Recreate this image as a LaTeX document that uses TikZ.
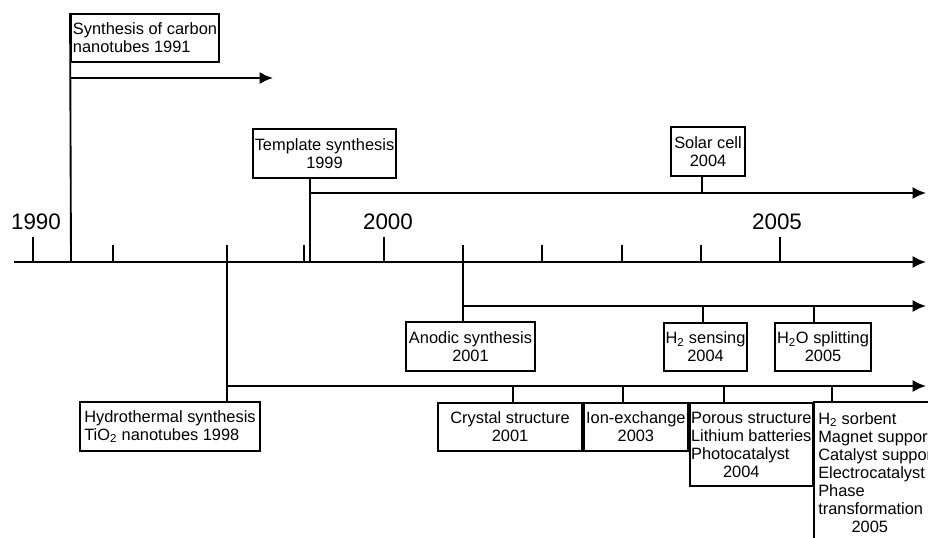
\documentclass[tikz,border=0pt]{standalone}
\usepackage{fontspec}
\setmainfont{Liberation Sans}
\usetikzlibrary{arrows.meta,positioning}
\newcommand{\evfont}{\fontsize{12.3}{13.5}\selectfont}
\newcommand{\yrfont}{\fontsize{16.8}{20}\selectfont}
\tikzstyle{event} = [draw, rectangle, line width=1.4pt, inner sep=0pt,
    align=center, font=\evfont]
\tikzstyle{year} = [inner sep=0pt, font=\yrfont]
\tikzstyle{line} = [line width=1.4pt]
\tikzstyle{connector} = [-{Latex[length=10pt,width=9pt]}, line width=1.4pt]

\begin{document}
\begin{tikzpicture}[x=0.75pt,y=-0.75pt]
	\useasboundingbox (0,0) rectangle (928,538);
	% time axis
	\coordinate (start) at (14,262);
	\coordinate (end) at (926,262);
	\draw[connector] (start) -- (end);
	\node[year] (y1990) at (36,222) {1990};
	\node[year] (y2000) at (388,222) {2000};
	\node[year] (y2005) at (777,222) {2005};
	\foreach \x in {33,384,780} \draw[line] (\x,237) -- (\x,262);
	\foreach \x in {113,304,542,622,701} \draw[line] (\x,245) -- (\x,262);
	
	% branch points
	\coordinate (b91) at (71,262);
	\coordinate (b98) at (227,245);
	\coordinate (b99) at (310,262);
	\coordinate (b01) at (463,245);
	\coordinate (e91) at (273,78);
	\coordinate (e98) at (926,386);
	\coordinate (e99) at (926,193);
	\coordinate (e01) at (926,306);
	
	% above the axis
	\node[event, align=left, minimum width=111pt, minimum height=36pt] (carbon) at (145,38)
		{Synthesis of carbon\\nanotubes 1991};
	\node[event, minimum width=107.25pt, minimum height=36.75pt] (template) at (324.5,153.5)
		{Template synthesis\\1999};
	\node[event, minimum width=55.5pt, minimum height=36.75pt] (solar) at (708,151.5)
		{Solar cell\\2004};
	\coordinate (s04) at (702,193);
	
	\draw[line] (carbon.north west) -- (b91);
	\draw[connector] (b91 |- e91) -- (e91);
	\draw[line] (template.south -| b99) -- (b99);
	\draw[connector] (b99 |- e99) -- (e99);
	\draw[line] (solar.south -| s04) -- (s04);
	
	% anodic branch
	\node[event, minimum width=96.75pt, minimum height=36.75pt] (anodic) at (470.5,346.5)
		{Anodic synthesis\\2001};
	\node[event, minimum width=62.25pt, minimum height=36pt] (sensing) at (705.5,347)
		{H\textsubscript{2} sensing\\2004};
	\node[event, minimum width=72pt, minimum height=36pt] (splitting) at (823,347)
		{H\textsubscript{2}O splitting\\2005};
	\coordinate (s04b) at (703,306);
	\coordinate (s05) at (814,306);
	
	\draw[connector] (b01) |- (e01);
	\draw[line] (anodic.north -| b01) -- (b01 |- e01);
	\draw[line] (sensing.north -| s04b) -- (s04b);
	\draw[line] (splitting.north -| s05) -- (s05);
	
	% hydrothermal branch
	\node[event, align=left, minimum width=135pt, minimum height=36.75pt] (hydro) at (170,426.5)
		{Hydrothermal synthesis\\TiO\textsubscript{2} nanotubes 1998};
	\node[event, minimum width=108pt, minimum height=36pt] (crystal) at (510,427)
		{Crystal structure\\2001};
	\node[event, minimum width=78pt, minimum height=36pt, right=0pt of crystal] (ionex)
		{Ion-exchange\\2003};
	\node[event, align=left, minimum width=92.25pt, minimum height=62.25pt, anchor=north west]
		(porous) at (ionex.north east)
		{Porous structure\\Lithium batteries\\Photocatalyst\\\hspace*{24pt}2004};
	\node[inner sep=0pt, align=left, font=\evfont, anchor=north west] (sorbent) at (818,412)
		{H\textsubscript{2} sorbent\\Magnet support\\Catalyst support\\Electrocatalyst\\Phase\\transformation\\\hspace*{25pt}2005};
	\coordinate (s01) at (513,386);
	\coordinate (s03) at (623,386);
	\coordinate (s04c) at (724,386);
	\coordinate (s05b) at (832,386);
	
	\draw[connector] (b98) |- (e98);
	\draw[line] (hydro.north -| b98) -- (b98 |- e98);
	\draw[line] (crystal.north -| s01) -- (s01);
	\draw[line] (ionex.north -| s03) -- (s03);
	\draw[line] (porous.north -| s04c) -- (s04c);
	\draw[line] (porous.north east -| s05b) -- (s05b);
	\draw[line] (porous.north east |- 0,545) -- (porous.north east) -- (porous.north east -| 935,0);
\end{tikzpicture}
\end{document}
